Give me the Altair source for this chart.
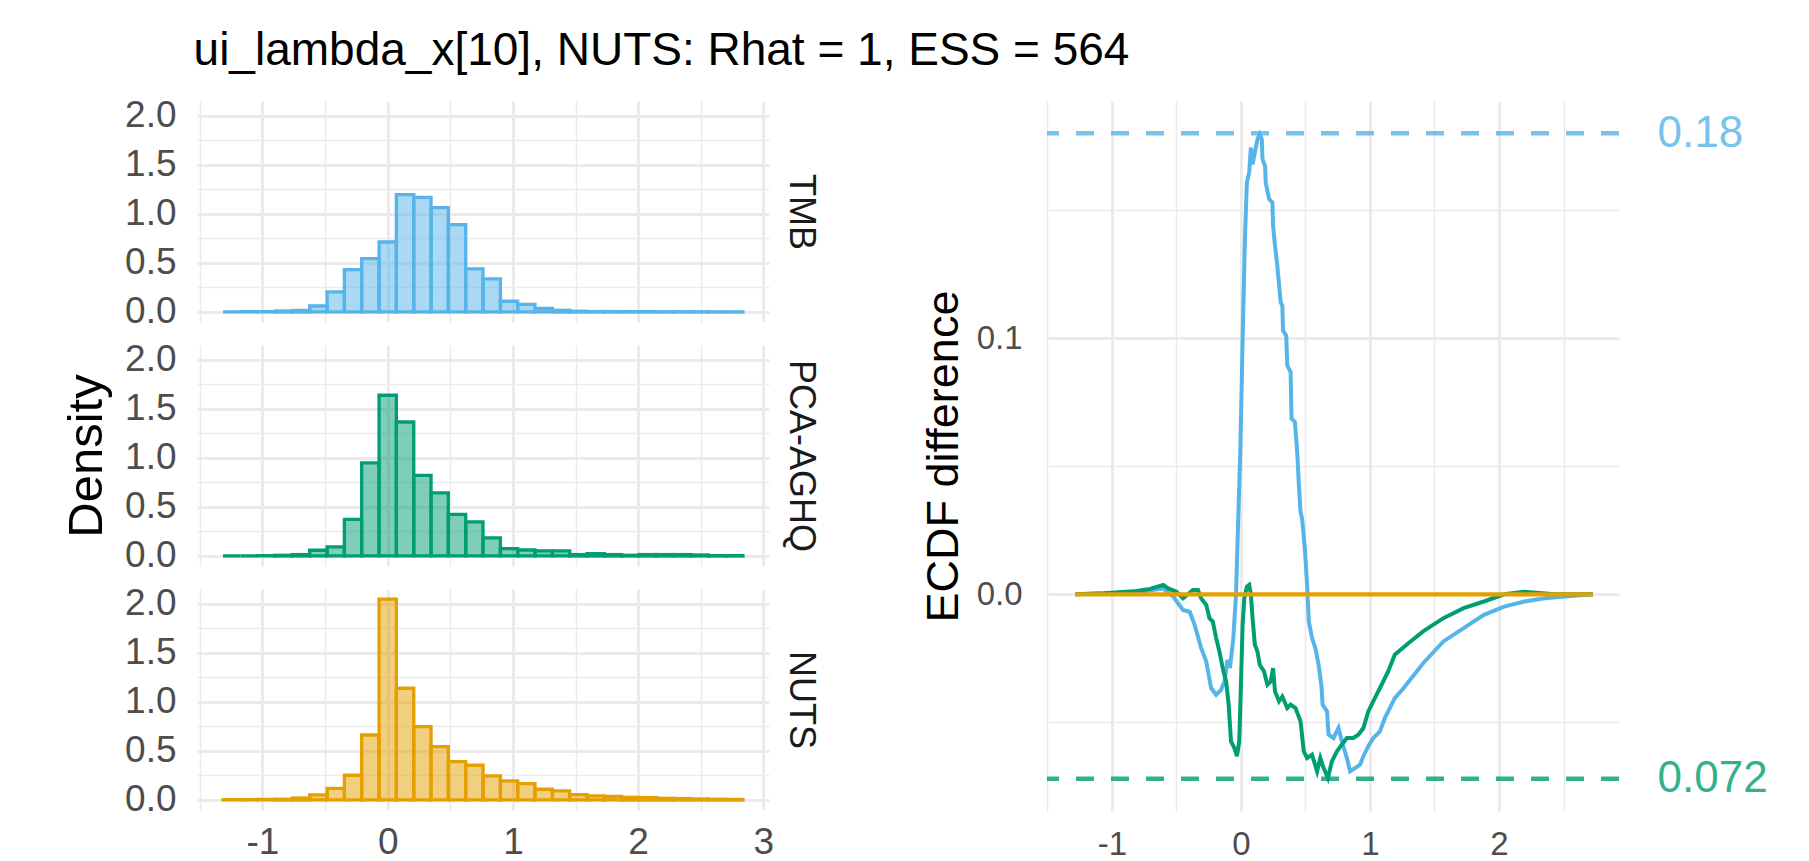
import altair as alt
import pandas as pd

FONT = "Liberation Sans"
TITLE = "ui_lambda_x[10], NUTS: Rhat = 1, ESS = 564"
METHODS = ["TMB", "PCA-AGHQ", "NUTS"]
COLORS = ["#56B4E9", "#009E73", "#E69F00"]
LABEL_COLORS = ["#78C3ED", "#33B18F"]
GRID = "#EBEBEB"

# histogram bin edges (30 bins, shared by the three facets)
BIN_EDGES = [-1.315, -1.176, -1.038, -0.900, -0.761, -0.623, -0.484, -0.346, -0.208, -0.069,
             0.069, 0.208, 0.346, 0.484, 0.623, 0.761, 0.900, 1.038, 1.176, 1.315,
             1.453, 1.592, 1.730, 1.868, 2.007, 2.145, 2.284, 2.422, 2.560, 2.699, 2.837]

DENS_TMB = [0.000, 0.003, 0.003, 0.010, 0.015, 0.061, 0.204, 0.432, 0.544, 0.714,
            1.197, 1.170, 1.065, 0.891, 0.439, 0.337, 0.109, 0.078, 0.037, 0.017,
            0.007, 0.004, 0.004, 0.003, 0.003, 0.002, 0.002, 0.002, 0.001, 0.001]
DENS_PCA = [0.000, 0.000, 0.003, 0.007, 0.014, 0.058, 0.092, 0.374, 0.949, 1.640,
            1.367, 0.823, 0.643, 0.425, 0.347, 0.184, 0.075, 0.061, 0.051, 0.051,
            0.014, 0.024, 0.014, 0.007, 0.014, 0.014, 0.014, 0.010, 0.003, 0.003]
DENS_NUTS = [0.002, 0.003, 0.005, 0.007, 0.020, 0.051, 0.119, 0.252, 0.663, 2.050,
             1.140, 0.748, 0.544, 0.391, 0.354, 0.245, 0.194, 0.167, 0.109, 0.092,
             0.054, 0.041, 0.037, 0.027, 0.024, 0.017, 0.014, 0.010, 0.007, 0.005]

# ECDF differences (method minus NUTS)
TMB_X = [-1.282, -1.064, -0.808, -0.602, -0.525, -0.449, -0.397, -0.359, -0.308, -0.269,
         -0.231, -0.192, -0.154, -0.128, -0.103, -0.085, -0.059, -0.038, -0.021, -0.005,
         0.013, 0.031, 0.046, 0.064, 0.077, 0.090, 0.108, 0.128, 0.146, 0.162,
         0.167, 0.187, 0.192, 0.218, 0.244, 0.249, 0.264, 0.282, 0.308, 0.321,
         0.326, 0.351, 0.359, 0.385, 0.392, 0.418, 0.436, 0.449, 0.462, 0.474,
         0.495, 0.513, 0.526, 0.551, 0.577, 0.602, 0.623, 0.633, 0.667, 0.679,
         0.718, 0.756, 0.782, 0.821, 0.846, 0.885, 0.923, 0.949, 0.987, 1.026,
         1.077, 1.115, 1.154, 1.192, 1.255, 1.412, 1.569, 1.726, 1.883, 2.040,
         2.197, 2.354, 2.511, 2.727]
TMB_Y = [0.0, 0.0003, 0.0008, 0.0023, -0.0009, -0.0061, -0.0068, -0.0119, -0.0210, -0.0262,
         -0.0366, -0.0392, -0.0373, -0.0340, -0.0256, -0.0288, -0.0171, 0.0, 0.0296, 0.0556,
         0.0997, 0.1387, 0.1608, 0.1647, 0.1744, 0.1679, 0.1725, 0.1776, 0.1796, 0.1776,
         0.1699, 0.1673, 0.1608, 0.1543, 0.1530, 0.1439, 0.1361, 0.1283, 0.1140, 0.1127,
         0.1030, 0.1010, 0.0894, 0.0868, 0.0686, 0.0673, 0.0556, 0.0426, 0.0322, 0.0296,
         0.0179, 0.0037, -0.0106, -0.0171, -0.0210, -0.0275, -0.0353, -0.0431, -0.0457, -0.0548,
         -0.0561, -0.0522, -0.0574, -0.0639, -0.0691, -0.0678, -0.0665, -0.0632, -0.0593, -0.0561,
         -0.0535, -0.0483, -0.0444, -0.0405, -0.0370, -0.0269, -0.0184, -0.0132, -0.0080, -0.0048,
         -0.0028, -0.0015, -0.0009, 0.0]

PCA_X = [-1.282, -1.064, -0.808, -0.705, -0.602, -0.564, -0.500, -0.449, -0.410, -0.372,
         -0.333, -0.308, -0.269, -0.244, -0.218, -0.192, -0.167, -0.141, -0.115, -0.095,
         -0.077, -0.051, -0.031, -0.013, 0.000, 0.013, 0.026, 0.046, 0.064, 0.077,
         0.090, 0.108, 0.128, 0.146, 0.179, 0.205, 0.231, 0.249, 0.264, 0.295,
         0.321, 0.359, 0.385, 0.423, 0.462, 0.487, 0.513, 0.551, 0.590, 0.615,
         0.641, 0.674, 0.705, 0.744, 0.782, 0.821, 0.872, 0.910, 0.949, 0.987,
         1.038, 1.090, 1.141, 1.192, 1.300, 1.412, 1.569, 1.726, 1.883, 2.040,
         2.197, 2.432, 2.727]
PCA_Y = [0.0, 0.0004, 0.0013, 0.0021, 0.0037, 0.0023, 0.0010, -0.0016, 0.0, 0.0017,
         0.0017, -0.0016, -0.0041, -0.0093, -0.0106, -0.0171, -0.0223, -0.0288, -0.0340, -0.0431,
         -0.0574, -0.0600, -0.0632, -0.0574, -0.0353, -0.0119, -0.0016, 0.0030, 0.0037, 0.0,
         -0.0093, -0.0197, -0.0223, -0.0275, -0.0301, -0.0353, -0.0340, -0.0288, -0.0379, -0.0418,
         -0.0399, -0.0444, -0.0431, -0.0444, -0.0496, -0.0613, -0.0639, -0.0626, -0.0691, -0.0639,
         -0.0678, -0.0717, -0.0652, -0.0613, -0.0587, -0.0561, -0.0561, -0.0548, -0.0522, -0.0457,
         -0.0405, -0.0353, -0.0301, -0.0236, -0.0190, -0.0145, -0.0093, -0.0054, -0.0028, 0.0,
         0.0010, 0.0, 0.0]

NUTS_X = [-1.282, 2.727]
NUTS_Y = [0.0, 0.0]

# largest absolute ECDF differences
RULE_METHODS = ["TMB", "PCA-AGHQ"]
RULE_VALUES = [0.18, -0.072]

X_DOMAIN_LEFT = [-1.523, 3.045]
Y_DOMAIN_LEFT = [-0.1025, 2.1525]
X_GRID_LEFT = [-1.5, -1, -0.5, 0, 0.5, 1, 1.5, 2, 2.5, 3]
Y_GRID_LEFT = [0, 0.25, 0.5, 0.75, 1, 1.25, 1.5, 1.75, 2]
X_DOMAIN_RIGHT = [-1.503, 2.93]
Y_DOMAIN_RIGHT = [-0.0846, 0.1926]
X_GRID_RIGHT = [-1.5, -1, -0.5, 0, 0.5, 1, 1.5, 2, 2.5]
Y_GRID_RIGHT = [-0.05, 0, 0.05, 0.1, 0.15]

INT_TEST = "abs(datum.value - round(datum.value)) < 1e-9"
HALF_TEST = "abs(datum.value * 2 - round(datum.value * 2)) < 1e-9"
TENTH_TEST = "abs(datum.value * 10 - round(datum.value * 10)) < 1e-9"

TICK_FS_L = 37
TICK_FS_R = 33
STRIP_FS = 36


def grid_width(test):
    return {"condition": {"test": test, "value": 3}, "value": 1.5}


def hist_row(i, dens, show_x):
    method = METHODS[i]
    color = COLORS[i]
    df = pd.DataFrame({"left": BIN_EDGES[:-1], "right": BIN_EDGES[1:], "density": dens})
    df["method"] = method
    df["base"] = 0.0
    x_axis = alt.Axis(orient="bottom", values=X_GRID_LEFT,
                      labelExpr=f"{INT_TEST} ? toString(datum.value) : ''",
                      labels=show_x, grid=True, gridWidth=grid_width(INT_TEST), gridColor=GRID,
                      title=None, labelPadding=14, labelFontSize=TICK_FS_L, labelFlush=False,
                      labelOverlap=False, ticks=False, domain=False)
    y_axis = alt.Axis(orient="left", values=Y_GRID_LEFT,
                      labelExpr=f"{HALF_TEST} ? format(datum.value, '.1f') : ''",
                      grid=True, gridWidth=grid_width(HALF_TEST), gridColor=GRID, title="Density",
                      titleOpacity=1 if i == 1 else 0, titlePadding=13, titleFontSize=49,
                      labelPadding=21, labelFontSize=TICK_FS_L,
                      labelFlush=False, labelOverlap=False, ticks=False, domain=False)
    xsc = alt.Scale(domain=X_DOMAIN_LEFT, nice=False, zero=False)
    ysc = alt.Scale(domain=Y_DOMAIN_LEFT, nice=False, zero=False)
    base = alt.Chart(df)
    bars = base.mark_rect(fill=color, fillOpacity=0.5, stroke=color, strokeWidth=3.3).encode(
        x=alt.X("left:Q", scale=xsc, axis=x_axis),
        x2="right:Q",
        y=alt.Y("density:Q", scale=ysc, axis=y_axis),
        y2="base:Q",
    )
    strip = base.mark_rect(opacity=0).encode(
        x=alt.X("left:Q", scale=xsc, axis=x_axis),
        x2="right:Q",
        y=alt.Y("density:Q", scale=ysc,
                axis=alt.Axis(orient="right", title=method, labels=False, ticks=False,
                              domain=False, grid=False, titlePadding=12,
                              titleFontSize=STRIP_FS, titleColor="#1A1A1A", titleAngle=90)),
        y2="base:Q",
    )
    return alt.layer(bars, strip).resolve_axis(y="independent").properties(width=572, height=221)


left = alt.vconcat(
    hist_row(0, DENS_TMB, False),
    hist_row(1, DENS_PCA, False),
    hist_row(2, DENS_NUTS, True),
    spacing=23,
    bounds="flush",
)

xs = alt.Scale(domain=X_DOMAIN_RIGHT, nice=False, zero=False)
ys = alt.Scale(domain=Y_DOMAIN_RIGHT, nice=False, zero=False)
cscale = alt.Scale(domain=METHODS, range=COLORS)

x_axis_r = alt.Axis(orient="bottom", values=X_GRID_RIGHT,
                    labelExpr=f"{INT_TEST} ? toString(datum.value) : ''",
                    grid=True, gridWidth=grid_width(INT_TEST), gridColor=GRID, title=None,
                    labelPadding=17, labelFontSize=TICK_FS_R, labelFlush=False,
                    labelOverlap=False, ticks=False, domain=False)
y_axis_r = alt.Axis(orient="left", values=Y_GRID_RIGHT,
                    labelExpr=f"{TENTH_TEST} ? format(datum.value, '.1f') : ''",
                    grid=True, gridWidth=grid_width(TENTH_TEST), gridColor=GRID,
                    title="ECDF difference", titlePadding=10, titleFontSize=45,
                    labelPadding=25, labelFontSize=TICK_FS_R, labelFlush=False,
                    labelOverlap=False, ticks=False, domain=False)


def ecdf_line(xv, yv, color, width):
    df = pd.DataFrame({"x": xv, "y": yv})
    return alt.Chart(df).mark_line(color=color, strokeWidth=width).encode(
        x=alt.X("x:Q", scale=xs, axis=x_axis_r),
        y=alt.Y("y:Q", scale=ys, axis=y_axis_r),
    )


lines = alt.layer(
    ecdf_line(TMB_X, TMB_Y, COLORS[0], 4),
    ecdf_line(PCA_X, PCA_Y, COLORS[1], 4),
    ecdf_line(NUTS_X, NUTS_Y, COLORS[2], 4.2),
)

rules_df = pd.DataFrame({"method": RULE_METHODS, "value": RULE_VALUES})
rules = alt.Chart(rules_df).mark_rule(strokeDash=[18, 17], strokeWidth=4.5, opacity=0.8).encode(
    y=alt.Y("value:Q", scale=ys,
            axis=alt.Axis(orient="right", values=RULE_VALUES, labelExpr="toString(abs(datum.value))",
                          labelColor={"condition": {"test": "datum.value > 0", "value": LABEL_COLORS[0]},
                                      "value": LABEL_COLORS[1]},
                          labelFontSize=44, labelPadding=38, grid=False, ticks=False, domain=False,
                          title=None, labelFlush=False, labelOverlap=False)),
    color=alt.Color("method:N", scale=cscale, legend=None),
)

right = alt.layer(lines, rules).resolve_axis(y="independent").properties(width=572, height=710)

chart = alt.hconcat(left, right, spacing=103).properties(
    title=alt.TitleParams(TITLE, anchor="start", font=FONT, fontSize=46, fontWeight="normal",
                          color="black", dx=131, offset=-14, baseline="alphabetic"),
    padding={"left": 62, "top": 27, "right": 5, "bottom": 0},
).configure(font=FONT).configure_view(stroke=None).configure_axis(
    labelFont=FONT, titleFont=FONT, labelColor="#4D4D4D", titleColor="black",
    titleFontWeight="normal",
)

chart.save("out.html", embed_options={"renderer": "svg", "actions": False})
